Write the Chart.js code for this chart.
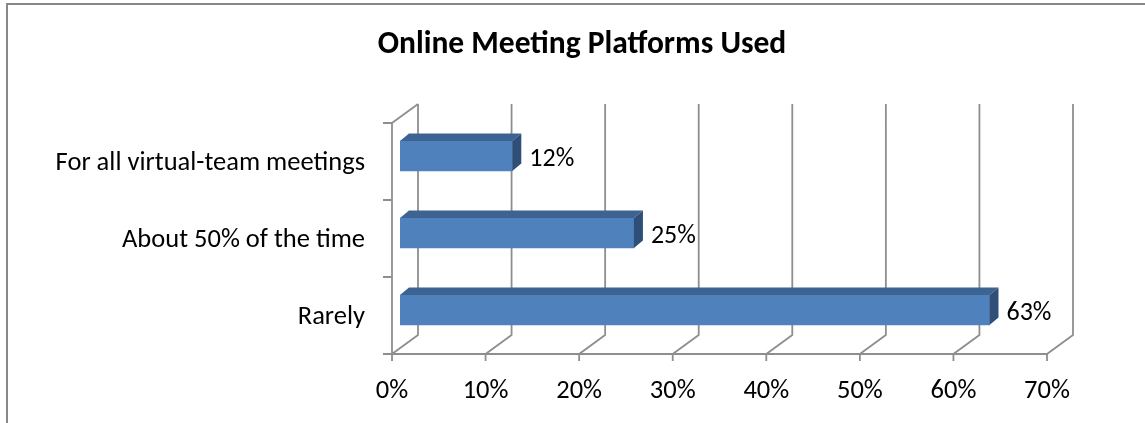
<!DOCTYPE html>
<html>
<head>
<meta charset="utf-8">
<script src="https://cdn.jsdelivr.net/npm/chart.js@4.4.0/dist/chart.umd.min.js"></script>
<style>
  body { margin: 0; background: #fff; }
  #wrap { position: relative; width: 1145px; height: 423px; overflow: hidden; }
  #frame { position: absolute; left: 6px; top: 3px; width: 1200px; height: 500px;
           border-top: 2px solid #888; border-left: 2px solid #888; }
  #myChart { position: absolute; left: 0; top: 0; }
</style>
</head>
<body>
<div id="wrap">
  <div id="frame"></div>
  <canvas id="myChart" width="1145" height="423"></canvas>
</div>
<script>
const categories = ['For all virtual-team meetings', 'About 50% of the time', 'Rarely'];
const values = [12, 25, 63];
const xTicks = [0, 10, 20, 30, 40, 50, 60, 70];

const FONT = 'Carlito, Calibri, Lato, sans-serif';
const gridColor = '#8e8e8e';

// offsets of the floor/back planes relative to the bar front plane
const front = { dx: -8, dy: 5.5 };
const back = { dx: 18, dy: -13.5 };
const depth = { dx: 9, dy: 7.5 };

const grid3d = {
    id: 'grid3d',
    beforeDatasetsDraw(chart) {
        const c = chart.ctx, xs = chart.scales.x, area = chart.chartArea;
        const top = area.top, bottom = area.bottom;
        c.save();
        c.strokeStyle = gridColor;
        c.lineWidth = 1.8;
        c.beginPath();
        xTicks.forEach(v => {
            const px = xs.getPixelForValue(v);
            // back wall line
            c.moveTo(px + back.dx, top + back.dy);
            c.lineTo(px + back.dx, bottom + back.dy);
            // floor line
            c.lineTo(px + front.dx, bottom + front.dy);
            // tick below axis
            c.lineTo(px + front.dx, bottom + front.dy + 7);
        });
        // front axis line
        const x0 = xs.getPixelForValue(xTicks[0]);
        const x1 = xs.getPixelForValue(xTicks[xTicks.length - 1]);
        c.moveTo(x0 + front.dx, bottom + front.dy);
        c.lineTo(x1 + front.dx, bottom + front.dy);
        // left wall
        c.moveTo(x0 + front.dx, bottom + front.dy);
        c.lineTo(x0 + front.dx, top + front.dy);
        c.lineTo(x0 + back.dx, top + back.dy);
        // category ticks on left axis
        const band = (bottom - top) / categories.length;
        for (let i = 0; i <= categories.length; i++) {
            const y = top + i * band + front.dy;
            c.moveTo(x0 + front.dx - 9, y);
            c.lineTo(x0 + front.dx, y);
        }
        c.stroke();
        c.restore();
    },
    afterDatasetsDraw(chart) {
        const c = chart.ctx;
        const meta = chart.getDatasetMeta(0);
        c.save();
        meta.data.forEach((bar, i) => {
            const p = bar.getProps(['x', 'y', 'base', 'height'], true);
            const t = p.y - p.height / 2, b = p.y + p.height / 2;
            c.fillStyle = '#3D6392';
            c.beginPath();
            c.moveTo(p.base, t);
            c.lineTo(p.base + depth.dx, t - depth.dy);
            c.lineTo(p.x + depth.dx, t - depth.dy);
            c.lineTo(p.x, t);
            c.closePath();
            c.fill();
            c.fillStyle = '#2F4E78';
            c.beginPath();
            c.moveTo(p.x, t);
            c.lineTo(p.x + depth.dx, t - depth.dy);
            c.lineTo(p.x + depth.dx, b - depth.dy);
            c.lineTo(p.x, b);
            c.closePath();
            c.fill();
            c.fillStyle = '#000';
            c.font = '26px ' + FONT;
            c.textBaseline = 'middle';
            c.textAlign = 'left';
            c.fillText(values[i] + '%', p.x + depth.dx + 8, p.y + 3);
        });
        c.restore();
    }
};

const ctx = document.getElementById('myChart').getContext('2d');
const myChart = new Chart(ctx, {
    type: 'bar',
    data: {
        labels: categories,
        datasets: [{
            data: values,
            backgroundColor: '#4F81BD',
            barThickness: 30
        }]
    },
    options: {
        indexAxis: 'y',
        responsive: false,
        animation: false,
        // negative right padding + spacer axis keeps the title centred on the whole picture
        layout: { padding: { left: 0, right: -19, top: 0, bottom: 0 } },
        plugins: {
            legend: { display: false },
            tooltip: { enabled: false },
            title: {
                display: true,
                text: 'Online Meeting Platforms Used',
                color: '#000',
                font: { family: FONT, size: 31.5, weight: 'bold', lineHeight: 1.2 },
                padding: { top: 26, bottom: 53.7 }
            }
        },
        scales: {
            x: {
                min: 0,
                max: 70,
                ticks: {
                    stepSize: 10,
                    color: '#000',
                    font: { family: FONT, size: 26.5 },
                    padding: 27,
                    labelOffset: -8,
                    callback: v => v + '%'
                },
                grid: { display: false, drawTicks: false },
                border: { display: false },
                afterFit: s => { s.height = 423 - 348.5; }
            },
            y: {
                ticks: {
                    color: '#000',
                    font: { family: FONT, size: 26.5 },
                    padding: 35,
                    labelOffset: 7
                },
                grid: { display: false, drawTicks: false },
                border: { display: false },
                afterFit: s => { s.width = 400; }
            },
            spacer: {
                type: 'category',
                position: 'right',
                ticks: { display: false },
                grid: { display: false, drawTicks: false },
                border: { display: false },
                afterFit: s => { s.width = 109; }
            }
        }
    },
    plugins: [grid3d]
});
</script>
</body>
</html>
